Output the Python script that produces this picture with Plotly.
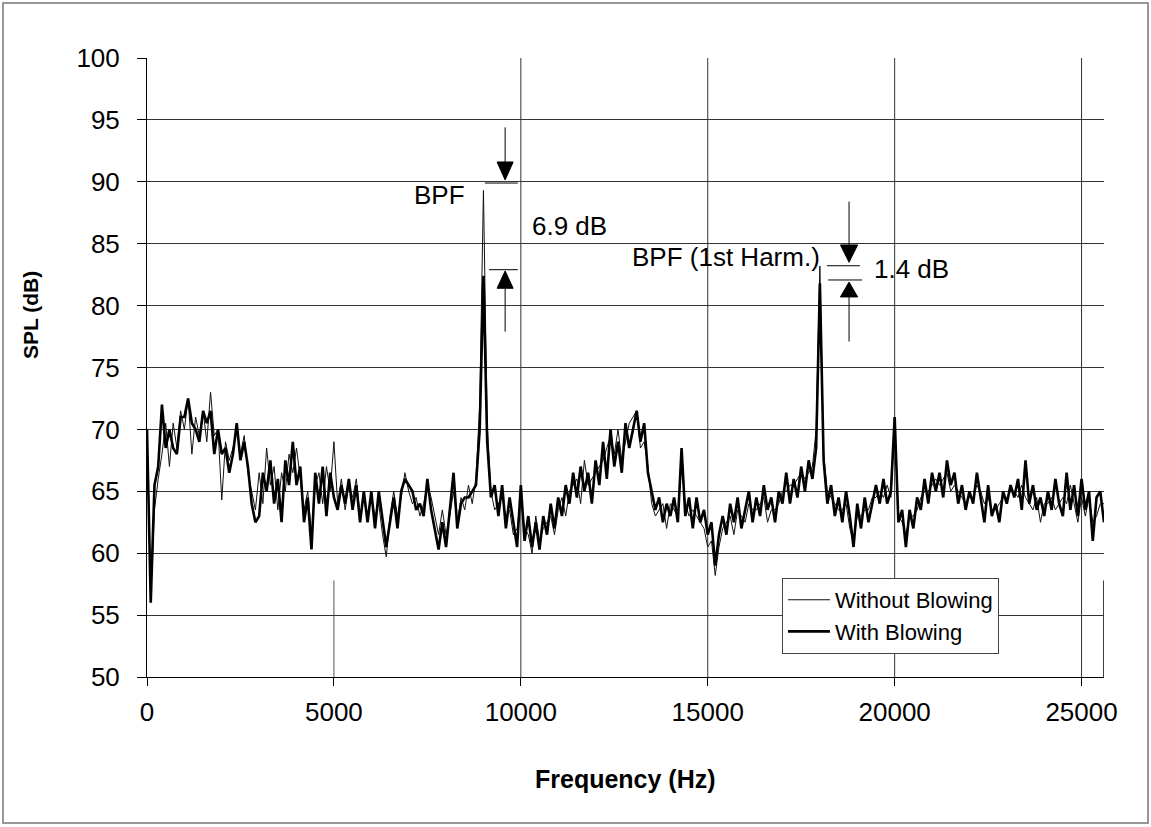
import plotly.graph_objects as go

# ---------------- data ----------------
freq_step_hz = 100

with_blowing = [
    70, 56, 65.5, 67, 72, 68.5, 70, 68.5, 68, 71,
    71, 72.5, 70.5, 70, 69, 71.5, 70.5, 71.5, 68, 70,
    68, 68.5, 66.5, 68, 70.5, 67.5, 69, 67, 64, 62.5,
    63, 66.5, 65, 67.5, 64, 66, 62.5, 67.5, 65.5, 69,
    65.5, 67, 62.5, 64.5, 60.3, 66.5, 64, 67, 63, 66.5,
    64.5, 63.5, 65.5, 64, 66, 63.5, 65.5, 62.5, 65, 62.5,
    65, 62, 65, 62.5, 60.5, 62.5, 64.5, 62, 65, 66,
    65.5, 65, 63.5, 64, 63, 66, 63.5, 62, 60.3, 62.5,
    60.5, 63.5, 66.5, 62, 64, 64.5, 64.5, 65, 65.5, 70,
    82.4, 69, 64.5, 65.5, 63, 65.5, 62, 64.5, 62.5, 60.5,
    65.5, 61, 63, 60.5, 62.5, 60.3, 63, 61.5, 64, 62,
    64.5, 63, 65.5, 64, 66.5, 64.5, 67, 65, 66.5, 64,
    67.5, 65.5, 69, 66, 70, 67, 69, 66.5, 70.5, 68.5,
    70, 71.5, 69, 70.5, 66.5, 65, 63.5, 64.5, 62.5, 64,
    63, 64.5, 62.5, 68.5, 63, 64.5, 62, 64.5, 62.5, 63.5,
    61.5, 62.5, 59, 61.5, 63, 61.5, 64, 62.5, 64.5, 62,
    63.5, 65, 62.5, 64.5, 63, 65.5, 63.5, 64.5, 62.5, 65,
    64, 66.5, 64, 66, 64.5, 67, 65, 67.5, 66, 68.5,
    81.8, 67.5, 64, 65.5, 63, 64.5, 62.5, 65, 63, 60.5,
    64, 62, 64.5, 62.5, 64, 65.5, 64, 66, 64, 65,
    71, 62.5, 63.5, 60.5, 63.5, 62, 64.5, 63.5, 66, 64,
    66.5, 65, 66.5, 64.5, 67.5, 65.5, 66.5, 64, 65.5, 63.5,
    65, 64, 66.5, 64.5, 62.5, 65.5, 63, 64, 62.5, 65,
    64, 65.5, 64.5, 66, 63.5, 67.5, 64, 65.5, 63.5, 64.5,
    63, 65, 63.5, 66, 64, 63, 66.5, 63.5, 65.5, 63,
    66, 63.5, 65, 61, 64.5, 65, 62.5,
]

without_blowing = [
    70, 56.5, 63.5, 66, 68, 70.5, 67, 70.5, 68.5, 71.5,
    70, 72.5, 68, 71, 69.5, 71.5, 69, 73, 69.5, 70,
    64.3, 69, 67.5, 68.5, 70, 68, 69.5, 66.5, 65, 63.5,
    66.5, 64, 68.5, 65.5, 67, 63.5, 66.5, 65, 68, 66.5,
    68.5, 66, 63.5, 65, 61.5, 65.5, 66.5, 64, 67, 65,
    69, 64, 66, 63.5, 65.5, 64.5, 66, 63, 64.5, 63,
    64.5, 63, 64, 61.5, 59.7, 63, 65, 63, 64.5, 66.5,
    65, 64, 64.5, 63, 64, 65.5, 64.5, 63, 61.5, 63.5,
    61.5, 63, 65, 62.5, 64.5, 63.5, 65.5, 64, 66, 72,
    89.3, 70.5, 65, 63.5, 64, 64.5, 63, 63.5, 61.5, 62,
    64.5, 62, 61.5, 60, 63, 61, 62, 62.5, 63, 61.5,
    63.5, 64.5, 63, 65, 65.5, 66, 64, 67.5, 65.5, 66,
    66.5, 67, 67.5, 68.5, 69.5, 68, 70, 67.5, 69, 70.5,
    71, 71.5, 68.5, 69, 67, 64, 63, 63.5, 64, 62,
    64, 63.5, 63, 67, 64, 63, 63.5, 63, 62.5, 62,
    60.5, 61, 58.2, 60.5, 62, 62.5, 63, 61.5, 63.5, 63,
    62.5, 64, 63.5, 63.5, 64, 64.5, 62.5, 63.5, 63.5, 64,
    65, 65, 65.5, 65.5, 66, 66.5, 66, 66.5, 67, 70,
    83.2, 68, 65, 64.5, 64, 63.5, 63.5, 64, 62, 61,
    63, 63, 63.5, 63.5, 64.5, 64.5, 65, 64.5, 65.5, 64.5,
    70.5, 63, 62.5, 61.5, 63, 63, 63.5, 64.5, 65, 65,
    65.5, 66, 65.5, 66, 66.5, 65, 65.5, 65, 64.5, 64,
    64.5, 64.5, 65.5, 65, 64, 64.5, 63.5, 63.5, 64, 64.5,
    64.5, 65, 65, 64.5, 65.5, 64.5, 64, 63.5, 64.5, 62.5,
    64, 64, 64.5, 63.5, 64, 64.5, 64, 65.5, 64, 62.5,
    64.5, 63, 64.5, 62.5, 63, 64, 64,
]

freq_with = [i * freq_step_hz for i in range(len(with_blowing))]
freq_without = [i * freq_step_hz for i in range(len(without_blowing))]

series_names = ["Without Blowing", "With Blowing"]
x_ticks = [0, 5000, 10000, 15000, 20000, 25000]
x_tick_labels = ["0", "5000", "10000", "15000", "20000", "25000"]
y_ticks = [50, 55, 60, 65, 70, 75, 80, 85, 90, 95, 100]
y_tick_labels = [str(v) for v in y_ticks]

FONT = "Liberation Sans, Arial, Helvetica, sans-serif"

# ---------------- figure ----------------
fig = go.Figure()
fig.add_trace(go.Scatter(x=freq_without, y=without_blowing, mode="lines",
                         name=series_names[0],
                         line=dict(color="#111111", width=1)))
fig.add_trace(go.Scatter(x=freq_with, y=with_blowing, mode="lines",
                         name=series_names[1],
                         line=dict(color="#000000", width=2.6)))

shapes = []
# vertical grid lines
for xv in [10000, 15000, 20000, 25000]:
    shapes.append(dict(type="line", xref="x", yref="y", x0=xv, x1=xv, y0=50, y1=100,
                       line=dict(color="#333333", width=1), layer="below"))
shapes.append(dict(type="line", xref="x", yref="y", x0=5000, x1=5000, y0=50, y1=57.8,
                   line=dict(color="#555555", width=1), layer="below"))
shapes.append(dict(type="line", xref="x", yref="y", x0=25600, x1=25600, y0=50, y1=57.8,
                   line=dict(color="#000000", width=1.5), layer="below"))

def seg(x0, y0, x1, y1, w=1, c="#000000"):
    shapes.append(dict(type="line", xref="x", yref="y", x0=x0, x1=x1, y0=y0, y1=y1,
                       line=dict(color=c, width=w)))

def tri(xc, ybase, ytip, half_w):
    shapes.append(dict(type="path", xref="x", yref="y",
                       path=f"M {xc-half_w},{ybase} L {xc+half_w},{ybase} L {xc},{ytip} Z",
                       fillcolor="#000000", line=dict(color="#000000", width=1)))

# BPF arrows (6.9 dB)
xa = 9580
seg(xa, 94.4, xa, 91.6)
tri(xa, 91.6, 90.15, 215)
seg(9040, 89.9, 9920, 89.9)
seg(9150, 82.9, 9920, 82.9)
tri(xa, 81.4, 82.8, 215)
seg(xa, 81.4, xa, 77.9)

# 1st harmonic arrows (1.4 dB)
xb = 18780
seg(xb, 88.4, xb, 84.9)
tri(xb, 84.9, 83.5, 230)
seg(18190, 83.22, 19070, 83.22)
seg(18220, 82.07, 19130, 82.07)
tri(xb, 80.7, 81.9, 230)
seg(xb, 80.7, xb, 77.1)

# outer chart border
shapes.append(dict(type="rect", xref="paper", yref="paper",
                   x0=-0.1505, x1=1.046, y0=-0.2359, y1=1.0889,
                   line=dict(color="#777777", width=1.5), layer="below"))

annotations = [
    dict(x=7100, y=88.9, xref="x", yref="y", text="BPF", showarrow=False,
         xanchor="left", yanchor="middle", font=dict(size=26, color="#000")),
    dict(x=10245, y=86.47, xref="x", yref="y", text="6.9 dB", showarrow=False,
         xanchor="left", yanchor="middle", font=dict(size=26, color="#000")),
    dict(x=12930, y=83.9, xref="x", yref="y", text="BPF (1st Harm.)", showarrow=False,
         xanchor="left", yanchor="middle", font=dict(size=26, color="#000")),
    dict(x=19386, y=82.96, xref="x", yref="y", text="1.4 dB", showarrow=False,
         xanchor="left", yanchor="middle", font=dict(size=26, color="#000")),
    dict(x=0.5, y=-0.165, xref="paper", yref="paper", text="<b>Frequency (Hz)</b>",
         showarrow=False, xanchor="center", yanchor="middle",
         font=dict(size=25, color="#000")),
    dict(x=-0.121, y=0.585, xref="paper", yref="paper", text="<b>SPL (dB)</b>",
         showarrow=False, xanchor="center", yanchor="middle", textangle=-90,
         font=dict(size=21, color="#000")),
]

fig.update_layout(
    width=1151, height=827,
    margin=dict(l=147, r=47, t=58, b=150, pad=0),
    paper_bgcolor="white", plot_bgcolor="white",
    font=dict(family=FONT, color="#000000"),
    showlegend=True,
    legend=dict(x=0.6635, y=0.16, xanchor="left", yanchor="top",
                bgcolor="white", bordercolor="#444444", borderwidth=1,
                font=dict(size=22, color="#000"), tracegroupgap=0,
                itemwidth=42),
    shapes=shapes,
    annotations=annotations,
)
fig.update_xaxes(range=[0, 25600], tickvals=x_ticks, ticktext=x_tick_labels,
                 ticks="outside", ticklen=8,
                 tickcolor="#000", showline=True, linecolor="#000", linewidth=1,
                 showgrid=False, zeroline=False, tickfont=dict(size=26),
                 ticklabelstandoff=4)
fig.update_yaxes(range=[50, 100], tickvals=y_ticks, ticktext=y_tick_labels,
                 ticks="outside", ticklen=9,
                 tickcolor="#000", showline=True, linecolor="#000", linewidth=1,
                 showgrid=True, gridcolor="#333333", gridwidth=1, zeroline=False,
                 tickfont=dict(size=26), ticklabelstandoff=12)

# remove the page's default body margin so the figure sits at the window origin
fig.write_html("out.html",
               config={"displayModeBar": False},
               post_script="document.body.style.margin='0px';document.body.style.overflow='hidden';")
